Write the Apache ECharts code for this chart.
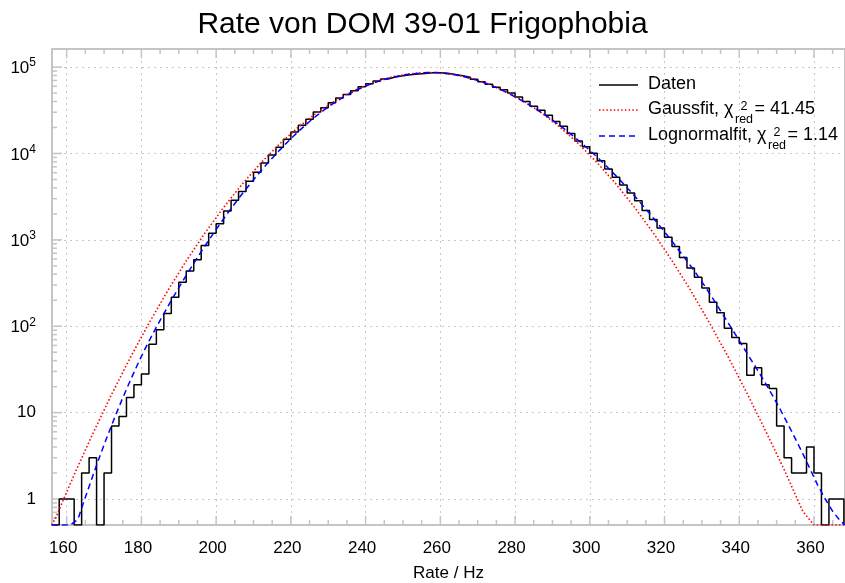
<!DOCTYPE html>
<html>
<head>
<meta charset="utf-8">
<script src="https://cdn.jsdelivr.net/npm/echarts@6/dist/echarts.min.js"></script>
<style>
  html, body { margin: 0; padding: 0; background: #ffffff; }
  #chart { width: 845px; height: 583px; }
</style>
</head>
<body>
<div id="chart"></div>
<script>
const FONT = "'Liberation Sans', Arial, Helvetica, sans-serif";

// Rate histogram: 2 Hz wide bins, the first one starting at 156 Hz
const binStart = 156;
const binWidth = 2;
const counts = [
  0, 1, 1, 0, 2, 3, 0, 2, 7, 9,
  15, 21, 28, 62, 91, 140, 216, 323, 435, 588,
  861, 1196, 1538, 2153, 2865, 3641, 4760, 6055, 7762, 9616,
  11800, 14620, 17760, 21240, 24950, 30200, 33900, 38700, 44000, 48200,
  53100, 59100, 64200, 69000, 73000, 76800, 79300, 81500, 83000, 84500,
  85900, 85900, 85000, 82300, 79500, 76500, 72500, 67500, 63500, 58600,
  54600, 50000, 45000, 40000, 35300, 31700, 27700, 23400, 20690, 17030,
  13900, 12000, 10050, 8230, 6620, 5300, 4330, 3480, 2830, 2190,
  1720, 1375, 1075, 840, 625, 472, 369, 277, 189, 143,
  95, 74, 63, 27, 33, 21, 19, 7, 3, 2,
  2, 4, 2, 0, 1, 1
];

// Gaussian fit curve
const gaussRate = [156, 157, 162, 167, 172, 177, 182, 187, 192, 197, 202, 207, 212, 217, 222,
  227, 232, 237, 242, 247, 252, 257, 262, 267, 272, 277, 282, 287, 292, 297, 302, 307, 312,
  317, 322, 327, 332, 337, 342, 347, 352, 357, 360, 368.3];
const gaussCount = [0.45, 0.60, 1.91, 5.71, 16.2, 43.2, 108, 256, 571, 1200, 2377, 4436, 7798,
  12920, 20180, 29720, 41160, 53790, 66220, 76820, 83970, 86500, 83970, 76820, 66220, 53790,
  41160, 29720, 20180, 12920, 7798, 4436, 2377, 1200, 575, 260, 110, 44.5, 17.0, 6.2, 2.2,
  0.72, 0.47, 0.03];

// Lognormal fit curve
const lognRate = [156, 157, 159, 161, 163, 165, 167, 169, 171, 173, 175, 177, 179, 181, 183,
  185, 187, 189, 191, 193, 195, 197, 199, 201, 203, 205, 207, 209, 211, 213, 215, 217, 219,
  221, 223, 225, 227, 229, 231, 233, 235, 237, 239, 241, 243, 245, 247, 249, 251, 253, 255,
  257, 259, 261, 263, 265, 267, 269, 271, 273, 275, 277, 279, 281, 283, 285, 287, 289, 291,
  293, 295, 297, 299, 301, 303, 305, 307, 309, 311, 313, 315, 317, 319, 321, 323, 325, 327,
  329, 331, 333, 335, 337, 339, 341, 343, 345, 347, 349, 351, 353, 355, 357, 359, 361, 363,
  365, 367, 368.3];
const lognCount = [0.06, 0.083, 0.16, 0.31, 0.58, 1.05, 1.86, 3.24, 5.50, 9.12, 14.8, 23.4,
  36.3, 55.0, 80.9, 117, 167, 236, 330, 456, 625, 849, 1143, 1524, 2014, 2636, 3420, 4395,
  5598, 7063, 8831, 10940, 13430, 16330, 19680, 23440, 27610, 32140, 36980, 42070, 47320,
  52600, 57810, 62810, 67450, 71780, 75680, 79070, 81850, 83950, 85510, 86500, 86500, 85110,
  82790, 79800, 76210, 72110, 67610, 62810, 57810, 52720, 47640, 42850, 38190, 33880, 29850,
  26120, 22650, 19500, 16670, 14130, 11890, 9931, 8222, 6761, 5508, 4467, 3589, 2864, 2270,
  1791, 1403, 1091, 845, 650, 498, 378, 282, 207, 151, 110, 80, 58, 42, 30.5, 22, 15.5, 10.8,
  7.4, 5.0, 3.35, 2.2, 1.45, 1.0, 0.72, 0.56, 0.5];

// Legend texts
const legendNames = ['Daten', 'Gaussfit, \u03C7', 'Lognormalfit, \u03C7'];
const chiRed = [null, '41.45', '1.14'];

// Axis ranges and tick positions
const xMin = 156.07, xMax = 368.3;
const yMin = 0.5, yMax = 162000;
const xMajorTicks = [160, 180, 200, 220, 240, 260, 280, 300, 320, 340, 360];
const xMinorTicks = [];
for (let v = 165; v <= 365; v += 5) if (v % 20 !== 0) xMinorTicks.push(v);
const yMajorTicks = [1, 10, 100, 1000, 10000, 100000];
const yMinorTicks = [0.6, 0.7, 0.8, 0.9];
for (let k = 0; k <= 4; k++) for (let m = 2; m <= 9; m++) yMinorTicks.push(m * Math.pow(10, k));

const atFloor = v => Math.max(v, yMin);

// step outline of the histogram, zero bins sit on the frame floor
const histPts = counts.map((c, i) => [binStart + i * binWidth, c > 0 ? c : yMin]);
const lastEdge = binStart + counts.length * binWidth;
histPts.push([lastEdge, histPts[histPts.length - 1][1]]);
histPts.push([lastEdge, yMin]);

const gaussPts = gaussRate.map((r, i) => [r, atFloor(gaussCount[i])]);
const lognPts = lognRate.map((r, i) => [r, atFloor(lognCount[i])]);

const frameGrey = '#c4c4c4';
const tickData = [];
xMajorTicks.forEach(v => tickData.push([v, yMin, 1]));
xMinorTicks.forEach(v => tickData.push([v, yMin, 0]));
const yTickData = [];
yMajorTicks.forEach(v => yTickData.push([xMin, v, 1]));
yMinorTicks.forEach(v => yTickData.push([xMin, v, 0]));

// text measurement for the legend layout
const measureCtx = document.createElement('canvas').getContext('2d');
function textWidth(str, size) {
  measureCtx.font = size + 'px ' + FONT;
  return measureCtx.measureText(str).width;
}

const legendLineX0 = 599, legendLineX1 = 638, legendTextX = 648;
const legendRowY = [85, 110, 136];
const legendStyles = [
  { stroke: '#000000', lineWidth: 1.5 },
  { stroke: '#ff0000', lineWidth: 1.6, lineDash: [1.5, 2.2] },
  { stroke: '#0000ff', lineWidth: 1.5, lineDash: [6, 4] }
];
const mainSize = 18, smallSize = 12.5;
const legendGraphics = [];
legendNames.forEach((name, i) => {
  const y = legendRowY[i];
  legendGraphics.push({
    type: 'line', silent: true,
    shape: { x1: legendLineX0, y1: y, x2: legendLineX1, y2: y },
    style: Object.assign({ fill: null }, legendStyles[i])
  });
  legendGraphics.push({
    type: 'text', silent: true,
    style: { text: name, x: legendTextX, y: y - 1, font: mainSize + 'px ' + FONT,
      fill: '#000', align: 'left', verticalAlign: 'middle' }
  });
  if (chiRed[i] !== null) {
    const subX = legendTextX + textWidth(name, mainSize) + 1.5;
    const subW = textWidth('red', smallSize);
    legendGraphics.push({
      type: 'text', silent: true,
      style: { text: 'red', x: subX, y: y + 10, font: smallSize + 'px ' + FONT,
        fill: '#000', align: 'left', verticalAlign: 'middle' }
    });
    legendGraphics.push({
      type: 'text', silent: true,
      style: { text: '2', x: subX + subW / 2, y: y - 3.5, font: smallSize + 'px ' + FONT,
        fill: '#000', align: 'center', verticalAlign: 'middle' }
    });
    legendGraphics.push({
      type: 'text', silent: true,
      style: { text: '= ' + chiRed[i], x: subX + subW + 1.5, y: y - 1, font: mainSize + 'px ' + FONT,
        fill: '#000', align: 'left', verticalAlign: 'middle' }
    });
  }
});

const chart = echarts.init(document.getElementById('chart'), null, { renderer: 'canvas' });
chart.setOption({
  animation: false,
  backgroundColor: '#ffffff',
  title: {
    text: 'Rate von DOM 39-01 Frigophobia',
    left: 'center', top: 5,
    textStyle: { fontFamily: FONT, fontSize: 30, fontWeight: 'normal', color: '#000' }
  },
  grid: {
    left: 52, top: 49, right: 0, bottom: 58,
    show: true, borderColor: frameGrey, borderWidth: 2, backgroundColor: 'transparent',
    containLabel: false, outerBoundsMode: 'none'
  },
  xAxis: {
    type: 'value', min: xMin, max: xMax, splitNumber: 10,
    axisLine: { show: false }, axisTick: { show: false },
    splitLine: { show: true, lineStyle: { color: '#c8c8c8', width: 1, type: [2, 4] } },
    axisLabel: {
      fontFamily: FONT, fontSize: 17, color: '#000', margin: 15,
      padding: [0, 7, 0, 0],
      showMinLabel: false, showMaxLabel: false,
      formatter: v => (Math.abs(v / 20 - Math.round(v / 20)) < 1e-6 ? String(Math.round(v)) : '')
    },
    name: 'Rate / Hz', nameLocation: 'middle', nameGap: 40,
    nameTextStyle: { fontFamily: FONT, fontSize: 17, color: '#000' }
  },
  yAxis: {
    type: 'log', logBase: 10, min: yMin, max: yMax,
    axisLine: { show: false }, axisTick: { show: false },
    splitLine: { show: true, lineStyle: { color: '#c8c8c8', width: 1, type: [2, 4] } },
    axisLabel: {
      fontFamily: FONT, fontSize: 17, color: '#000', margin: 16,
      showMinLabel: false, showMaxLabel: false,
      formatter: v => {
        const e = Math.log10(v);
        const r = Math.round(e);
        if (Math.abs(e - r) > 1e-6) return '';
        if (r === 0) return '{b|1}';
        if (r === 1) return '{b|10}';
        return '{b|10}{sup|' + r + '}';
      },
      rich: {
        b: { fontFamily: FONT, fontSize: 17, color: '#000', verticalAlign: 'bottom' },
        sup: { fontFamily: FONT, fontSize: 12, color: '#000', verticalAlign: 'bottom', padding: [0, 0, 8, 0] }
      }
    }
  },
  graphic: legendGraphics,
  series: [
    {
      name: 'Daten', type: 'line', data: histPts, step: 'end',
      symbol: 'none', silent: true, z: 3,
      lineStyle: { color: '#000000', width: 1.5 }
    },
    {
      name: 'Gaussfit', type: 'line', data: gaussPts,
      symbol: 'none', silent: true, z: 4,
      lineStyle: { color: '#ff0000', width: 1.6, type: [1.5, 2.2] }
    },
    {
      name: 'Lognormalfit', type: 'line', data: lognPts,
      symbol: 'none', silent: true, z: 5,
      lineStyle: { color: '#0000ff', width: 1.5, type: [6, 4] }
    },
    {
      name: 'xticks', type: 'custom', data: tickData, silent: true, z: 2, clip: false,
      encode: { x: 0, y: 1 },
      renderItem: (params, api) => {
        const cs = params.coordSys;
        const x = api.coord([api.value(0), yMin])[0];
        const len = api.value(2) ? 9 : 5;
        const bottom = cs.y + cs.height;
        return {
          type: 'group',
          children: [
            { type: 'line', shape: { x1: x, y1: bottom, x2: x, y2: bottom - len },
              style: { stroke: frameGrey, lineWidth: 1.5 } },
            { type: 'line', shape: { x1: x, y1: cs.y, x2: x, y2: cs.y + len },
              style: { stroke: frameGrey, lineWidth: 1.5 } }
          ]
        };
      }
    },
    {
      name: 'yticks', type: 'custom', data: yTickData, silent: true, z: 2, clip: false,
      encode: { x: 0, y: 1 },
      renderItem: (params, api) => {
        const cs = params.coordSys;
        const y = api.coord([xMin, api.value(1)])[1];
        const len = api.value(2) ? 10 : 5;
        return {
          type: 'line', shape: { x1: cs.x, y1: y, x2: cs.x + len, y2: y },
          style: { stroke: frameGrey, lineWidth: 1.5 }
        };
      }
    }
  ]
});
</script>
</body>
</html>
